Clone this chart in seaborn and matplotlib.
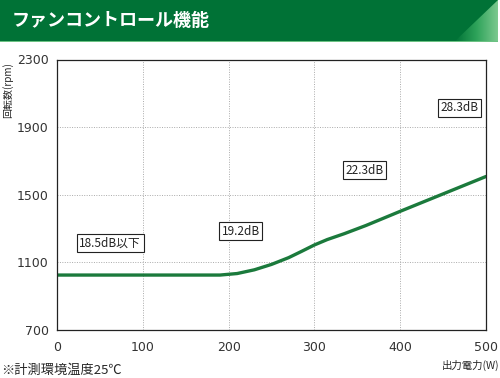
import numpy as np
import pandas as pd
import matplotlib
matplotlib.use('Agg')
import matplotlib.pyplot as plt
from matplotlib.patches import Polygon, Rectangle
import seaborn as sns

# fan speed curve
power_w = [0, 100, 190, 210, 230, 250, 270, 285, 300, 315, 335, 360, 400, 450, 500]
speed_rpm = [1025, 1025, 1025, 1034, 1056, 1088, 1128, 1165, 1203, 1235, 1270, 1318, 1402, 1505, 1608]

# noise labels
noise_labels = ['18.5dB以下', '19.2dB', '22.3dB', '28.3dB']
noise_x = [62, 214, 358, 469]
noise_y = [1216, 1284, 1645, 2014]

x_ticks = [0, 100, 200, 300, 400, 500]
y_ticks = [700, 1100, 1500, 1900, 2300]

sns.set_style('white')
plt.rcParams['font.family'] = ['Noto Sans CJK JP', 'DejaVu Sans']

data = pd.DataFrame({'power': power_w, 'rpm': speed_rpm})

fig = plt.figure(figsize=(5, 3.78), dpi=100)

# title banner
bax = fig.add_axes([0, 1 - 42 / 378, 1, 42 / 378])
bax.set_xlim(0, 500)
bax.set_ylim(0, 42)
bax.axis('off')
bax.add_patch(Rectangle((0, 1), 498, 41, color='#007236', lw=0))
grad = np.linspace(0, 1, 256).reshape(1, -1)
cmap = matplotlib.colors.LinearSegmentedColormap.from_list('g', ['#007236', '#2ea35a', '#7cc98f'])
im = bax.imshow(grad, extent=[455, 498, 1, 42], cmap=cmap, aspect='auto', zorder=2)
tri = Polygon([[455, 1], [498, 42], [498, 1]], closed=True, transform=bax.transData, fc='none', lw=0)
bax.add_patch(tri)
im.set_clip_path(tri)
bax.add_patch(Rectangle((0, 0), 498, 1.5, color='#6cc283', lw=0, zorder=3))
bax.text(12, 21, 'ファンコントロール機能', color='white', fontsize=13, fontweight='bold',
         va='center', ha='left')

ax = fig.add_axes([57 / 500, 1 - 330 / 378, 429 / 500, 270.5 / 378])
sns.lineplot(data=data, x='power', y='rpm', ax=ax, color='#1b7a3c', lw=2.4)
ax.set_xlim(0, 500)
ax.set_ylim(700, 2300)
ax.set_xticks(x_ticks)
ax.set_yticks(y_ticks)
ax.tick_params(length=0, labelsize=9, colors='#333333')
ax.tick_params(axis='x', pad=8)
ax.tick_params(axis='y', pad=6)
for t in ax.get_xticklabels() + ax.get_yticklabels():
    t.set_fontfamily('DejaVu Sans')
ax.grid(True, ls=(0, (1, 1.5)), color='#aaaaaa', lw=0.7)
for s in ax.spines.values():
    s.set_color('#222222')
    s.set_linewidth(0.9)
ax.set_xlabel('')
ax.set_ylabel('')

for lab, x, y in zip(noise_labels, noise_x, noise_y):
    ax.text(x, y, lab, fontsize=8.5, ha='center', va='center', color='#222222',
            bbox=dict(boxstyle='square,pad=0.22', fc='white', ec='#222222', lw=0.8))

fig.text(8 / 500, 1 - 90 / 378, '回転数(rpm)', rotation=90, fontsize=7.2, ha='center', va='center')
fig.text(499 / 500, 1 - 365 / 378, '出力電力(W)', fontsize=7.5, ha='right', va='center')
fig.text(1 / 500, 1 - 370 / 378, '※計測環境温度25℃', fontsize=9.5, ha='left', va='center')

fig.savefig('out.png', dpi=100)
